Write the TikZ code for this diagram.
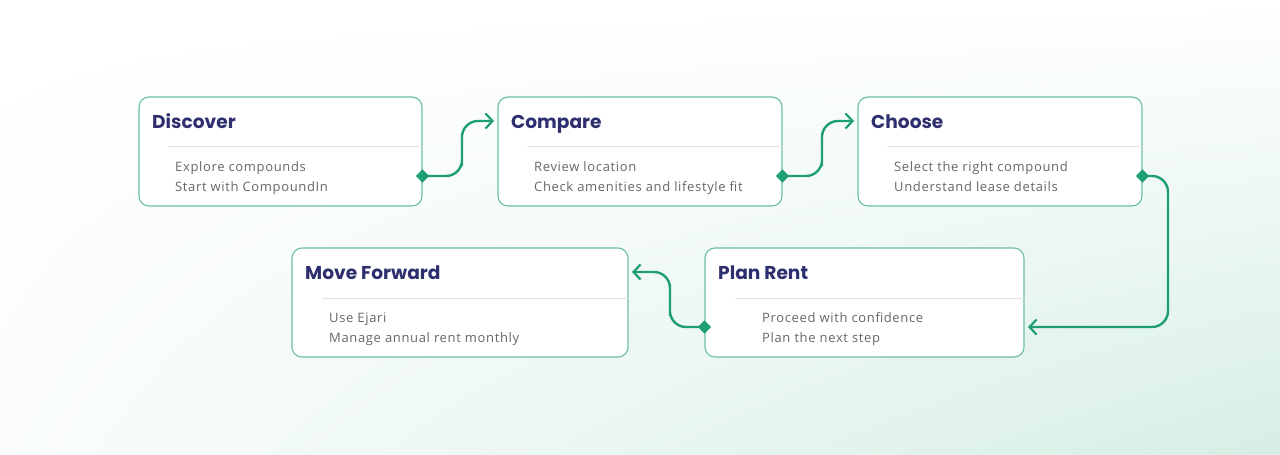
\documentclass[tikz,border=0pt]{standalone}
\usepackage{fontspec}
\setmainfont{Open Sans}[LetterSpace=5]
\newfontfamily\headfont{Poppins}
\usetikzlibrary{arrows.meta, positioning, shapes.geometric, calc, shadings}
\definecolor{cgreen}{HTML}{1F9D77}
\definecolor{cedge}{HTML}{6BBFA3}
\definecolor{cnavy}{HTML}{2D2F6E}
\definecolor{ctext}{HTML}{666666}
\definecolor{crule}{HTML}{E2E2E2}
\definecolor{cmint}{HTML}{D6EEE5}
\tikzset{
  card/.style={draw=cedge, fill=white, rounded corners=10pt, line width=1.1pt, inner sep=0pt},
  head/.style={font=\headfont\bfseries\fontsize{18.6}{20}\selectfont, text=cnavy, anchor=base west, inner sep=0pt},
  body/.style={font=\fontsize{13}{15}\selectfont, text=ctext, anchor=base west, inner sep=0pt},
  divider/.style={draw=crule, line width=0.9pt},
  knob/.style={diamond, fill=cgreen, inner sep=0pt, minimum size=13.5pt},
  link/.style={draw=cgreen, line width=2.4pt, -{Straight Barb[length=7pt, width=15pt, line width=2.2pt]}},
}
\begin{document}
\begin{tikzpicture}[x=1pt, y=-1pt]
  % background
  \shade[upper left=white, upper right=white, lower left=white!88!cmint, lower right=cmint]
    (0,0) rectangle (1280,455);
  \useasboundingbox (0,0) rectangle (1280,455);
  % cards
  \node[card, minimum width=283pt, minimum height=109pt] (discover) at (280.5,151.5) {};
  \node[card, minimum width=284pt, minimum height=109pt] (compare) at (640,151.5) {};
  \node[card, minimum width=284pt, minimum height=109pt] (choose) at (1000,151.5) {};
  \node[card, minimum width=319pt, minimum height=109pt] (plan) at (864.5,302.5) {};
  \node[card, minimum width=336pt, minimum height=109pt] (move) at (460,302.5) {};
  % titles
  \node[head] (t1) at (152,128) {Discover};
  \node[head] (t2) at (511,128) {Compare};
  \node[head] (t3) at (871,128) {Choose};
  \node[head] (t4) at (718,279) {Plan Rent};
  \node[head] (t5) at (305,279) {Move Forward};
  % dividers
  \coordinate (r1) at (168,146); \draw[divider] (r1) -- (r1 -| discover.east);
  \coordinate (r2) at (527,146); \draw[divider] (r2) -- (r2 -| compare.east);
  \coordinate (r3) at (887,146); \draw[divider] (r3) -- (r3 -| choose.east);
  \coordinate (r4) at (735,298); \draw[divider] (r4) -- (r4 -| plan.east);
  \coordinate (r5) at (322,298); \draw[divider] (r5) -- (r5 -| move.east);
  % items
  \node[body] (b11) at (175,171.5) {Explore compounds};
  \node[body] (b12) at (175,191.5) {Start with CompoundIn};
  \node[body] (b21) at (534,171.5) {Review location};
  \node[body] (b22) at (534,191.5) {Check amenities and lifestyle fit};
  \node[body] (b31) at (894,171.5) {Select the right compound};
  \node[body] (b32) at (894,191.5) {Understand lease details};
  \node[body] (b41) at (762,322.5) {Proceed with confidence};
  \node[body] (b42) at (762,342.5) {Plan the next step};
  \node[body] (b51) at (329,322.5) {Use Ejari};
  \node[body] (b52) at (329,342.5) {Manage annual rent monthly};
  % connectors
  \coordinate (e1) at (494,121); \coordinate (e2) at (854,121);
  \coordinate (e3) at (1028,327); \coordinate (e4) at (632,272);
  \draw[link, rounded corners=16pt] (422,176) -| (462,150) |- (e1);
  \draw[link, rounded corners=16pt] (782,176) -| (822,150) |- (e2);
  \draw[link, rounded corners=16pt] (1142,176) -| (1168,250) |- (e3);
  \draw[link, rounded corners=16pt] (705,327) -| (670,300) |- (e4);
  \node[knob] (k1) at (discover.east |- 0,176) {};
  \node[knob] (k2) at (compare.east |- 0,176) {};
  \node[knob] (k3) at (choose.east |- 0,176) {};
  \node[knob] (k4) at (plan.west |- 0,327) {};
\end{tikzpicture}
\end{document}
